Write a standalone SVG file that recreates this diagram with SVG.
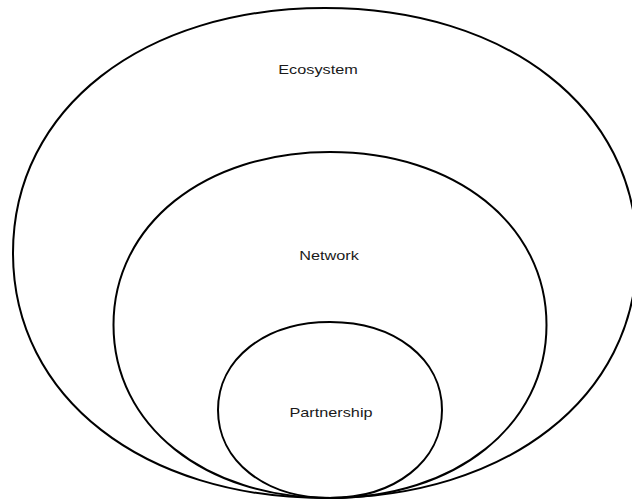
<svg xmlns="http://www.w3.org/2000/svg" width="632" height="500" viewBox="0 0 632 500">
<style>
.ring{fill:none;stroke:#000;stroke-width:2;stroke-linejoin:round}
.lbl{font-family:"Liberation Sans",Arial,sans-serif;font-size:12.5px;fill:#1a1a1a;text-anchor:middle}
</style>
<rect x="0" y="0" width="632" height="500" fill="#fff"/>
<g id="ecosystem">
<path class="ring" d="M325,8 C506,8 637,108 637,253 C637,398 506,498 325,498 C144,498 13,398 13,253 C13,108 144,8 325,8Z"/>
<text class="lbl" transform="translate(318,74) scale(1.3,1)">Ecosystem</text>
</g>
<g id="network">
<path class="ring" d="M330,152 C455.6,152 546.5,224.7 546.5,325 C546.5,425.3 455.6,498 330,498 C204.4,498 113.5,425.3 113.5,325 C113.5,224.7 204.4,152 330,152Z"/>
<text class="lbl" transform="translate(329,259.5) scale(1.3,1)">Network</text>
</g>
<g id="partnership">
<path class="ring" d="M330,322 C395,322 442,359 442,410 C442,461 395,498 330,498 C265,498 218,461 218,410 C218,359 265,322 330,322Z"/>
<text class="lbl" transform="translate(331,417) scale(1.3,1)">Partnership</text>
</g>
<g id="connectors"/>
</svg>
